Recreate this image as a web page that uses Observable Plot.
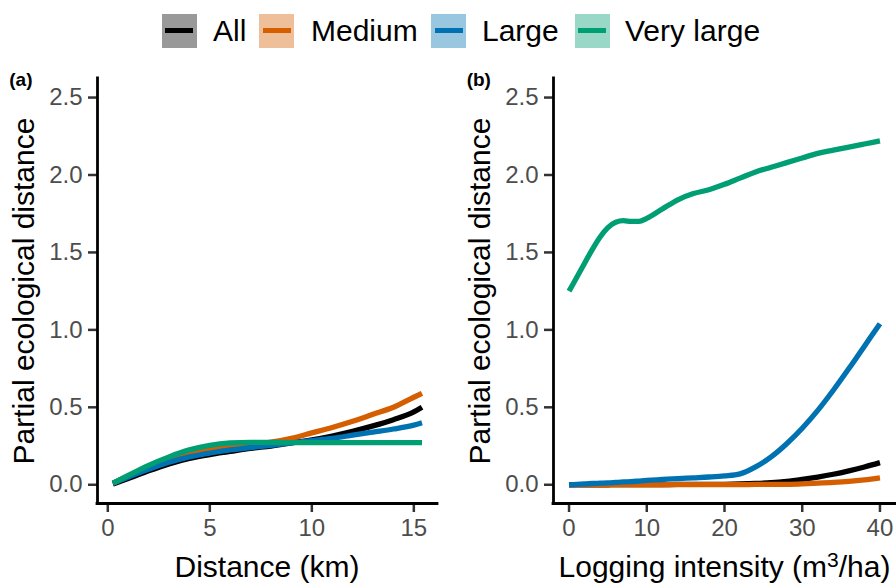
<!DOCTYPE html>
<html>
<head>
<meta charset="utf-8">
<script src="https://cdn.jsdelivr.net/npm/d3@7"></script>
<script src="https://cdn.jsdelivr.net/npm/@observablehq/plot@0.6"></script>
<style>
  html, body { margin: 0; padding: 0; background: #fff; }
  #wrap { position: relative; width: 896px; height: 586px; overflow: hidden; background: #fff;
          font-family: 'Liberation Sans', Arial, Helvetica, sans-serif; color: #000; }
  .lbox { position: absolute; width: 35px; height: 34px; top: 13.5px; }
  .lline { position: absolute; left: 3.5px; right: 3.5px; top: 14.75px; height: 4.5px; }
  .ltext { position: absolute; top: 15.6px; font-size: 30px; line-height: 1; white-space: nowrap; }
  .ytitle { position: absolute; font-size: 30px; line-height: 1; white-space: nowrap;
            transform: translate(-50%, -50%) rotate(-90deg); }
  .xtitle { position: absolute; top: 552px; font-size: 30px; line-height: 1; white-space: nowrap;
            transform: translateX(-50%); }
  .tag { position: absolute; top: 70px; font-size: 19px; font-weight: bold; line-height: 1; }
  .panel { position: absolute; top: 60px; }
</style>
</head>
<body>
<div id="wrap"></div>
<script>
// ---- series definitions ----
const seriesNames  = ["All", "Medium", "Large", "Very large"];
const seriesColors = ["#000000", "#D55E00", "#0072B2", "#009E73"];
const legendFills  = ["#999999", "#EEBF99", "#99C7E0", "#99D8C7"];

// ---- axis ticks ----
const yTicks = [0, 0.5, 1, 1.5, 2, 2.5];
const xTicksDistance = [0, 5, 10, 15];
const xTicksLogging = [0, 10, 20, 30, 40];

// ---- panel (a): distance (km) ----
const distanceKm    = [0.25, 1, 2, 3, 4, 5, 6, 7, 8, 9, 10, 11, 12, 13, 14, 15, 15.4];
const distAll       = [0.005, 0.04, 0.09, 0.135, 0.17, 0.195, 0.215, 0.235, 0.25, 0.27, 0.29, 0.315, 0.345, 0.38, 0.42, 0.47, 0.50];
const distMedium    = [0.01, 0.055, 0.115, 0.17, 0.21, 0.235, 0.25, 0.26, 0.275, 0.30, 0.335, 0.37, 0.41, 0.455, 0.50, 0.565, 0.59];
const distLarge     = [0.01, 0.05, 0.10, 0.145, 0.18, 0.205, 0.225, 0.24, 0.255, 0.27, 0.285, 0.30, 0.32, 0.34, 0.36, 0.385, 0.40];
const distVeryLarge = [0.01, 0.06, 0.125, 0.18, 0.225, 0.255, 0.27, 0.274, 0.273, 0.272, 0.272, 0.272, 0.272, 0.272, 0.272, 0.272, 0.272];

// ---- panel (b): logging intensity (m3/ha) ----
const loggingInt   = [0, 1, 2, 3, 4, 5, 6, 7, 8, 9, 10, 12, 14, 16, 18, 20, 22, 24, 26, 28, 30, 32, 34, 36, 38, 40];
const logAll       = [0, 0, 0, 0, 0, 0, 0.001, 0.001, 0.001, 0.001, 0.001, 0.001, 0.002, 0.002, 0.002, 0.003, 0.005, 0.008, 0.013, 0.022, 0.035, 0.05, 0.068, 0.09, 0.115, 0.143];
const logMedium    = [0, 0, 0, 0, 0, 0, 0, 0, 0, 0, 0, 0, 0.001, 0.001, 0.001, 0.001, 0.001, 0.002, 0.002, 0.003, 0.006, 0.01, 0.015, 0.022, 0.032, 0.045];
const logLarge     = [0, 0.003, 0.005, 0.008, 0.01, 0.012, 0.015, 0.018, 0.02, 0.024, 0.028, 0.034, 0.04, 0.045, 0.05, 0.057, 0.07, 0.115, 0.18, 0.265, 0.365, 0.48, 0.61, 0.75, 0.895, 1.04];
const logVeryLarge = [1.25, 1.34, 1.43, 1.52, 1.60, 1.66, 1.695, 1.705, 1.70, 1.70, 1.72, 1.78, 1.84, 1.88, 1.905, 1.94, 1.98, 2.02, 2.05, 2.08, 2.11, 2.14, 2.16, 2.18, 2.20, 2.22];

const yDomain = [-0.121, 2.623];

function tidy(xs, cols) {
  const rows = [];
  cols.forEach((vals, i) => vals.forEach((v, j) => rows.push({x: xs[j], y: v, series: seriesNames[i]})));
  return rows;
}
const rowsA = tidy(distanceKm, [distAll, distMedium, distLarge, distVeryLarge]);
const rowsB = tidy(loggingInt, [logAll, logMedium, logLarge, logVeryLarge]);

function panel({rows, xDomain, xTicks, marginLeft, marginRight}) {
  return Plot.plot({
    width: 448, height: 526,
    marginTop: 18, marginBottom: 83, marginLeft, marginRight,
    x: {domain: xDomain},
    y: {domain: yDomain},
    color: {domain: seriesNames, range: seriesColors},
    style: {fontFamily: "'Liberation Sans', Arial, sans-serif", fontSize: "24px", background: "transparent", overflow: "visible"},
    marks: [
      Plot.axisX({ticks: xTicks, tickSize: 9, tickPadding: 6, stroke: "#333333", strokeWidth: 2.5,
                  fill: "#4D4D4D", fontSize: 24, label: null, tickFormat: d => String(d)}),
      Plot.axisY({ticks: yTicks, tickSize: 9, tickPadding: 6, stroke: "#333333", strokeWidth: 2.5,
                  fill: "#4D4D4D", fontSize: 24, label: null, tickFormat: d3.format(".1f")}),
      Plot.line(rows, {x: "x", y: "y", z: "series", stroke: "series", strokeWidth: 5.3,
                       curve: "monotone-x", strokeLinecap: "butt", strokeLinejoin: "round"}),
      Plot.ruleX([xDomain[0]], {stroke: "#000", strokeWidth: 2.8, strokeLinecap: "square"}),
      Plot.ruleY([yDomain[0]], {stroke: "#000", strokeWidth: 2.8, strokeLinecap: "square"})
    ]
  });
}

const wrap = document.getElementById("wrap");

// legend
const legendX = [
  {box: 161.7, text: 213},
  {box: 259, text: 311},
  {box: 431, text: 482},
  {box: 574.5, text: 625}
];
seriesNames.forEach((name, i) => {
  const b = document.createElement("div");
  b.className = "lbox";
  b.style.left = legendX[i].box + "px";
  b.style.background = legendFills[i];
  const l = document.createElement("div");
  l.className = "lline";
  l.style.background = seriesColors[i];
  b.appendChild(l);
  wrap.appendChild(b);
  const t = document.createElement("div");
  t.className = "ltext";
  t.style.left = legendX[i].text + "px";
  t.textContent = name;
  wrap.appendChild(t);
});

// panels
const pa = panel({rows: rowsA, xDomain: [-0.505, 16.16], xTicks: xTicksDistance, marginLeft: 97, marginRight: 11});
pa.classList.add("panel");
pa.style.left = "0px";
wrap.appendChild(pa);

const pb = panel({rows: rowsB, xDomain: [-2, 42], xTicks: xTicksLogging, marginLeft: 105, marginRight: 1});
pb.classList.add("panel");
pb.style.left = "448px";
wrap.appendChild(pb);

// titles and tags
function addDiv(cls, html, left, top) {
  const d = document.createElement("div");
  d.className = cls;
  d.innerHTML = html;
  d.style.left = left + "px";
  if (top != null) d.style.top = top + "px";
  wrap.appendChild(d);
  return d;
}
addDiv("ytitle", "Partial ecological distance", 24, 290.5);
addDiv("ytitle", "Partial ecological distance", 480.4, 290.5);
addDiv("xtitle", "Distance (km)", 267, null);
addDiv("xtitle", "Logging intensity (m<span style=\"font-size:21px;position:relative;top:-10px\">3</span>/ha)", 724.5, null);
addDiv("tag", "(a)", 9.3, null);
addDiv("tag", "(b)", 466.7, null);
</script>
</body>
</html>
